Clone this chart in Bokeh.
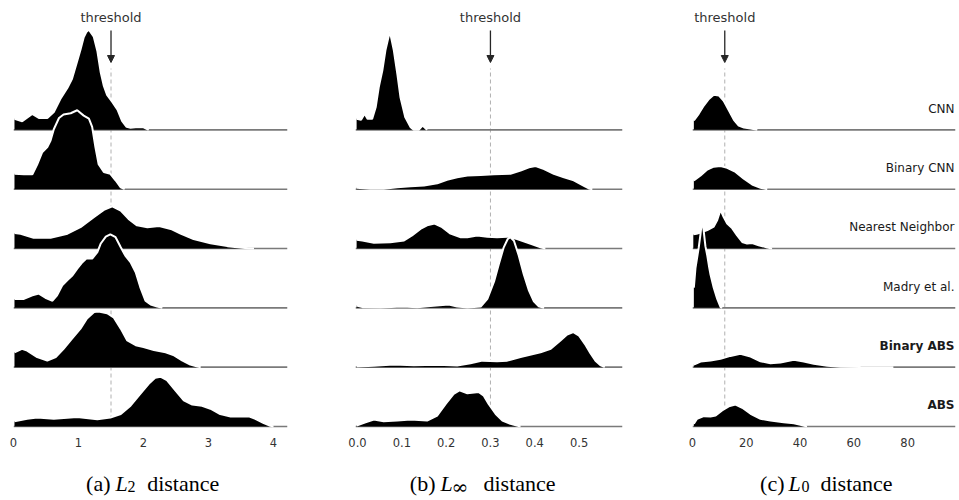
from bokeh.plotting import figure
from bokeh.models import Range1d, FixedTicker, Arrow, NormalHead, ColumnDataSource
from bokeh.layouts import column, row
from bokeh.embed import file_html
from bokeh.resources import INLINE
from bokeh.core.properties import value

MODELS = ["CNN", "Binary CNN", "Nearest Neighbor", "Madry et al.", "Binary ABS", "ABS"]
BOLD = [False, False, False, False, True, True]

# ---------------- L2 distance densities (height in row units) ----------------
l2_cnn_x = [0.015, 0.134, 0.288, 0.39, 0.52, 0.62, 0.72, 0.83, 0.90, 0.98, 1.03, 1.08, 1.12, 1.16, 1.235, 1.29, 1.34, 1.39, 1.44, 1.52, 1.60, 1.67, 1.74, 1.80, 1.88, 2.00, 2.08]
l2_cnn_h = [0.185, 0.145, 0.27, 0.20, 0.20, 0.30, 0.52, 0.71, 0.86, 1.16, 1.35, 1.56, 1.65, 1.69, 1.57, 1.33, 0.98, 0.74, 0.59, 0.47, 0.34, 0.15, 0.05, 0.035, 0.044, 0.044, 0.0]
l2_bcnn_x = [0.015, 0.16, 0.29, 0.365, 0.44, 0.52, 0.57, 0.62, 0.70, 0.77, 0.88, 0.98, 1.08, 1.16, 1.21, 1.26, 1.31, 1.39, 1.49, 1.57, 1.65, 1.71]
l2_bcnn_h = [0.26, 0.25, 0.25, 0.42, 0.62, 0.71, 0.82, 1.01, 1.20, 1.26, 1.28, 1.33, 1.24, 1.19, 1.05, 0.71, 0.42, 0.29, 0.26, 0.15, 0.03, 0.0]
l2_nn_x = [0.015, 0.11, 0.31, 0.57, 0.83, 1.03, 1.24, 1.39, 1.52, 1.65, 1.77, 1.90, 2.06, 2.24, 2.42, 2.57, 2.77, 3.03, 3.29, 3.60, 3.70]
l2_nn_h = [0.26, 0.25, 0.18, 0.18, 0.25, 0.36, 0.53, 0.65, 0.71, 0.64, 0.50, 0.39, 0.36, 0.38, 0.33, 0.25, 0.16, 0.09, 0.04, 0.005, 0.0]
l2_madry_x = [0.015, 0.16, 0.29, 0.39, 0.49, 0.60, 0.67, 0.75, 0.83, 0.90, 0.98, 1.06, 1.12, 1.21, 1.29, 1.34, 1.42, 1.49, 1.57, 1.65, 1.72, 1.80, 1.88, 1.95, 2.03, 2.11, 2.21, 2.29]
l2_madry_h = [0.15, 0.15, 0.21, 0.24, 0.17, 0.12, 0.21, 0.38, 0.47, 0.54, 0.66, 0.77, 0.83, 0.83, 0.94, 1.08, 1.20, 1.24, 1.19, 1.02, 0.88, 0.77, 0.60, 0.35, 0.12, 0.056, 0.022, 0.0]
l2_babs_x = [0.015, 0.13, 0.21, 0.365, 0.52, 0.65, 0.77, 0.90, 1.03, 1.13, 1.24, 1.31, 1.44, 1.54, 1.65, 1.75, 1.88, 2.00, 2.16, 2.34, 2.47, 2.60, 2.72, 2.83, 2.88]
l2_babs_h = [0.25, 0.31, 0.28, 0.17, 0.11, 0.17, 0.31, 0.48, 0.65, 0.82, 0.93, 0.94, 0.91, 0.84, 0.65, 0.45, 0.37, 0.34, 0.29, 0.25, 0.20, 0.11, 0.045, 0.01, 0.0]
l2_abs_x = [0.015, 0.21, 0.365, 0.62, 0.98, 1.29, 1.49, 1.65, 1.80, 1.95, 2.08, 2.18, 2.26, 2.36, 2.49, 2.62, 2.75, 2.90, 3.03, 3.18, 3.34, 3.49, 3.62, 3.72, 3.85, 3.95, 4.00]
l2_abs_h = [0.09, 0.13, 0.15, 0.13, 0.16, 0.12, 0.15, 0.21, 0.35, 0.55, 0.72, 0.82, 0.84, 0.78, 0.61, 0.44, 0.37, 0.35, 0.30, 0.21, 0.17, 0.17, 0.17, 0.13, 0.056, 0.012, 0.0]

# ---------------- L-infinity distance densities ----------------
li_cnn_x = [-0.002, 0.008, 0.016, 0.023, 0.033, 0.041, 0.048, 0.056, 0.063, 0.073, 0.082, 0.090, 0.097, 0.108, 0.120, 0.127, 0.138, 0.147, 0.157]
li_cnn_h = [0.185, 0.17, 0.27, 0.185, 0.185, 0.38, 0.72, 1.00, 1.34, 1.66, 1.34, 0.94, 0.55, 0.21, 0.045, 0.0, 0.0, 0.073, 0.0]
li_bcnn_x = [-0.002, 0.029, 0.059, 0.090, 0.120, 0.150, 0.180, 0.202, 0.225, 0.248, 0.278, 0.308, 0.345, 0.368, 0.387, 0.402, 0.421, 0.443, 0.466, 0.488, 0.511, 0.522, 0.530]
li_bcnn_h = [0.024, 0.007, 0.007, 0.034, 0.05, 0.062, 0.10, 0.16, 0.20, 0.23, 0.24, 0.25, 0.26, 0.315, 0.37, 0.39, 0.34, 0.26, 0.20, 0.15, 0.057, 0.012, 0.0]
li_nn_x = [-0.002, 0.011, 0.037, 0.074, 0.105, 0.123, 0.142, 0.157, 0.174, 0.191, 0.210, 0.233, 0.248, 0.270, 0.293, 0.315, 0.338, 0.360, 0.391, 0.413, 0.424]
li_nn_h = [0.147, 0.135, 0.096, 0.106, 0.135, 0.22, 0.33, 0.39, 0.42, 0.36, 0.25, 0.19, 0.19, 0.22, 0.20, 0.19, 0.20, 0.16, 0.08, 0.022, 0.0]
li_madry_x = [-0.002, 0.011, 0.052, 0.101, 0.135, 0.165, 0.206, 0.225, 0.248, 0.278, 0.293, 0.308, 0.319, 0.330, 0.339, 0.345, 0.353, 0.364, 0.375, 0.387, 0.398, 0.409, 0.421]
li_madry_h = [0.039, 0.012, 0.005, 0.022, 0.012, 0.029, 0.056, 0.022, 0.005, 0.022, 0.15, 0.44, 0.74, 1.02, 1.16, 1.19, 1.13, 0.88, 0.57, 0.29, 0.11, 0.027, 0.0]
li_babs_x = [-0.002, 0.037, 0.082, 0.127, 0.180, 0.225, 0.255, 0.282, 0.315, 0.338, 0.368, 0.413, 0.436, 0.458, 0.473, 0.487, 0.500, 0.515, 0.526, 0.537, 0.549, 0.558]
li_babs_h = [0.012, 0.024, 0.045, 0.034, 0.04, 0.029, 0.067, 0.11, 0.10, 0.11, 0.17, 0.25, 0.31, 0.45, 0.55, 0.59, 0.53, 0.37, 0.23, 0.11, 0.03, 0.0]
li_abs_x = [-0.002, 0.018, 0.037, 0.059, 0.090, 0.120, 0.157, 0.180, 0.199, 0.217, 0.230, 0.248, 0.274, 0.285, 0.296, 0.312, 0.327, 0.345, 0.368]
li_abs_h = [0.017, 0.072, 0.118, 0.09, 0.10, 0.118, 0.10, 0.185, 0.38, 0.55, 0.61, 0.56, 0.58, 0.52, 0.38, 0.21, 0.10, 0.045, 0.0]

# ---------------- L0 distance densities ----------------
l0_cnn_x = [0.5, 2.3, 4.2, 6.1, 7.9, 9.8, 11.6, 13.5, 15.4, 17.2, 19.1, 21.6, 24.1]
l0_cnn_h = [0.157, 0.27, 0.41, 0.52, 0.59, 0.58, 0.49, 0.33, 0.17, 0.072, 0.039, 0.022, 0.0]
l0_bcnn_x = [0.5, 3.0, 5.5, 7.9, 10.4, 12.9, 16.0, 19.1, 22.2, 25.3, 27.8]
l0_bcnn_h = [0.147, 0.23, 0.33, 0.38, 0.39, 0.36, 0.29, 0.175, 0.079, 0.024, 0.0]
l0_nn_x = [0.3, 1.5, 3.0, 5.5, 7.9, 9.2, 10.4, 11.6, 12.9, 14.8, 16.6, 18.5, 20.3, 22.2, 24.6, 27.8, 29.6]
l0_nn_h = [0.24, 0.25, 0.27, 0.31, 0.37, 0.48, 0.65, 0.53, 0.42, 0.34, 0.22, 0.11, 0.084, 0.094, 0.056, 0.017, 0.0]
l0_madry_x = [0.5, 1.1, 2.3, 3.0, 3.6, 4.2, 4.8, 5.5, 6.1, 6.7, 7.9, 9.2, 9.8, 10.4, 11.0]
l0_madry_h = [0.34, 0.67, 1.01, 1.25, 1.50, 1.28, 1.04, 0.88, 0.71, 0.56, 0.34, 0.15, 0.084, 0.017, 0.0]
l0_babs_x = [0.5, 3.0, 6.7, 10.4, 14.1, 17.8, 21.6, 25.3, 29.0, 32.7, 37.7, 41.4, 45.1, 50.1, 55.0, 62.5, 74.7]
l0_babs_h = [0.045, 0.096, 0.113, 0.142, 0.19, 0.226, 0.18, 0.10, 0.067, 0.079, 0.125, 0.096, 0.057, 0.024, 0.007, 0.003, 0.0]
l0_abs_x = [0.5, 1.7, 4.2, 6.7, 8.6, 11.0, 13.5, 16.0, 18.5, 21.6, 25.3, 29.0, 33.9, 37.7, 40.1, 42.6]
l0_abs_h = [0.045, 0.13, 0.174, 0.169, 0.185, 0.27, 0.34, 0.37, 0.315, 0.214, 0.13, 0.10, 0.072, 0.056, 0.029, 0.0]

L2_TICKS = [0, 1, 2, 3, 4]
L2_LABELS = ["0", "1", "2", "3", "4"]
LI_TICKS = [0.0, 0.1, 0.2, 0.3, 0.4, 0.5]
LI_LABELS = ["0.0", "0.1", "0.2", "0.3", "0.4", "0.5"]
L0_TICKS = [0, 20, 40, 60, 80]
L0_LABELS = ["0", "20", "40", "60", "80"]
THRESHOLDS = [1.5, 0.3, 12]

CAPTION_PREFIX = ["(a)", "(b)", "(c)"]
CAPTION_SUB = ["2", "\u221e", "0"]

# ---------------- layout constants ----------------
ROW = 59.33           # pixels per row unit
NROWS = 6
FIG_H = 455
Y_TOP = 426 / ROW
Y_BOT = -4 / ROW
SANS = value("DejaVu Sans")
SERIF = value("Liberation Serif")


def panel(xs, hs, x_start, x_end, ticks, labels, thr, width, left, right, row_labels=False):
    p = figure(width=width, height=FIG_H, x_range=Range1d(x_start, x_end),
               y_range=Range1d(Y_BOT, Y_TOP), output_backend="svg",
               toolbar_location=None, y_axis_location=None,
               min_border_left=left, min_border_right=right,
               min_border_top=0, min_border_bottom=25)
    p.outline_line_color = None
    p.grid.visible = False
    p.background_fill_color = "white"
    p.border_fill_color = "white"

    # threshold dashed line (below everything)
    p.segment(x0=[thr], y0=[0], x1=[thr], y1=[358 / ROW],
              line_color="#b0b0b0", line_dash="4 3", line_width=1)

    for i in range(NROWS):
        base = NROWS - 1 - i
        p.line(x=[x_start, x_end], y=[base, base], line_color="#7a7a7a", line_width=1.6)
        src = ColumnDataSource(dict(x=xs[i], y1=[base] * len(xs[i]),
                                    y2=[base + h for h in hs[i]]))
        p.varea(x="x", y1="y1", y2="y2", source=src, fill_color="black")
        p.line(x="x", y="y2", source=src, line_color="white", line_width=2)

    p.add_layout(Arrow(end=NormalHead(size=7, fill_color="#262626", line_color="#262626"),
                       x_start=thr, y_start=396 / ROW, x_end=thr, y_end=364 / ROW,
                       line_color="#262626", line_width=1.3))
    p.text(x=[thr], y=[409 / ROW], text=["threshold"], text_align="center",
           text_baseline="middle", text_font=SANS, text_font_size="13px",
           text_color="#333333")

    if row_labels:
        for bold in (False, True):
            names = [m for m, b in zip(MODELS, BOLD) if b == bold]
            ys = [NROWS - 1 - MODELS.index(m) + 0.355 for m in names]
            p.text(x=[x_end] * len(names), y=ys, text=names, text_align="right",
                   text_baseline="middle", text_font=SANS, text_font_size="12px",
                   text_color="#1a1a1a", text_font_style="bold" if bold else "normal",
                   x_offset=-1)

    ax = p.xaxis[0]
    ax.ticker = FixedTicker(ticks=ticks)
    ax.major_label_overrides = {t: l for t, l in zip(ticks, labels)}
    ax.axis_line_color = None
    ax.major_tick_line_color = None
    ax.minor_tick_line_color = None
    ax.major_tick_out = 0
    ax.major_tick_in = 0
    ax.major_label_standoff = 7
    ax.major_label_text_font = "DejaVu Sans"
    ax.major_label_text_font_size = "11.5px"
    ax.major_label_text_color = "#333333"
    return p


fa = panel([l2_cnn_x, l2_bcnn_x, l2_nn_x, l2_madry_x, l2_babs_x, l2_abs_x],
           [l2_cnn_h, l2_bcnn_h, l2_nn_h, l2_madry_h, l2_babs_h, l2_abs_h],
           0.0, 4.215, L2_TICKS, L2_LABELS, THRESHOLDS[0], 330, 13, 43)
fb = panel([li_cnn_x, li_bcnn_x, li_nn_x, li_madry_x, li_babs_x, li_abs_x],
           [li_cnn_h, li_bcnn_h, li_nn_h, li_madry_h, li_babs_h, li_abs_h],
           -0.0045, 0.598, LI_TICKS, LI_LABELS, THRESHOLDS[1], 340, 25, 48)
fc = panel([l0_cnn_x, l0_bcnn_x, l0_nn_x, l0_madry_x, l0_babs_x, l0_abs_x],
           [l0_cnn_h, l0_bcnn_h, l0_nn_h, l0_madry_h, l0_babs_h, l0_abs_h],
           0.0, 97.8, L0_TICKS, L0_LABELS, THRESHOLDS[2], 289, 22, 4, row_labels=True)

# ---------------- captions ----------------
CAP_H = 45
cap = figure(width=959, height=CAP_H, x_range=Range1d(0, 959), y_range=Range1d(0, CAP_H),
             output_backend="svg", toolbar_location=None,
             x_axis_location=None, y_axis_location=None,
             min_border_left=0, min_border_right=0, min_border_top=0, min_border_bottom=0)
cap.outline_line_color = None
cap.grid.visible = False

prefix_end = [110, 435, 784]
l_x = [115, 440, 788]
sub_x = [127, 451, 801]
dist_x = [146.7, 483, 820]
MAIN_Y = CAP_H - 28
SUB_Y = CAP_H - 31

cap.text(x=prefix_end, y=[MAIN_Y] * 3, text=CAPTION_PREFIX, text_font=SERIF,
         text_font_size="22px", text_color="black", text_baseline="alphabetic",
         text_align="right")
cap.text(x=l_x, y=[MAIN_Y] * 3, text=["L"] * 3, text_font=SERIF, text_font_style="italic",
         text_font_size="22px", text_color="black", text_baseline="alphabetic")
cap.text(x=[sub_x[0], sub_x[2]], y=[SUB_Y, SUB_Y], text=[CAPTION_SUB[0], CAPTION_SUB[2]],
         text_font=SERIF, text_font_size="16px", text_color="black",
         text_baseline="alphabetic")
cap.text(x=[sub_x[1]], y=[SUB_Y], text=[CAPTION_SUB[1]], text_font=value("DejaVu Serif"),
         text_font_size="20px", text_color="black", text_baseline="alphabetic")
cap.text(x=dist_x, y=[MAIN_Y] * 3, text=["distance"] * 3, text_font=SERIF,
         text_font_size="22px", text_color="black", text_baseline="alphabetic")

layout = column(row(fa, fb, fc), cap)
open("out.html", "w").write(file_html(layout, INLINE))
